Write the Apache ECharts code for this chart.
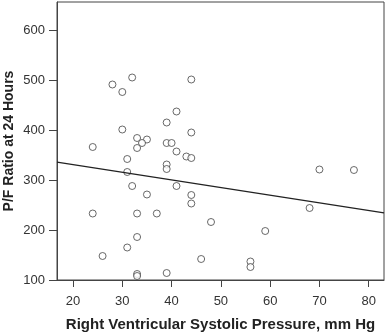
<!DOCTYPE html>
<html>
<head>
<meta charset="utf-8">
<script src="https://cdn.jsdelivr.net/npm/echarts@6/dist/echarts.min.js"></script>
<style>
  html, body { margin: 0; padding: 0; background: #fff; }
  #main { width: 387px; height: 333px; }
</style>
</head>
<body>
<div id="main"></div>
<script>
// RVSP (mm Hg) vs P/F ratio at 24 h
var rvsp = [24, 28, 30, 32, 44, 41, 39, 30, 44, 33, 35, 34, 33, 39, 40, 41, 43, 44, 31, 39, 39, 31,
            32, 41, 35, 44, 44, 24, 33, 37, 33, 31, 26, 39, 33, 33, 46, 48, 59, 56, 56, 68, 70, 77];
var pfRatio = [366, 491, 476, 505, 501, 437, 415, 401, 395, 384, 381, 374, 364, 374, 374, 357, 347, 344, 342, 331, 322, 316,
               288, 288, 271, 270, 253, 233, 233, 233, 186, 165, 148, 114, 112, 108, 142, 216, 198, 137, 126, 244, 321, 320];

// fit line end points
var fitX = [16.75, 83.1];
var fitY = [335.6, 234.4];

var xTicks = [20, 30, 40, 50, 60, 70, 80];
var yTicks = [100, 200, 300, 400, 500, 600];

var points = rvsp.map(function (x, i) { return [x, pfRatio[i]]; });
var fitLine = fitX.map(function (x, i) { return [x, fitY[i]]; });

var font = 'Liberation Sans, Arial, sans-serif';
var axisColor = '#444';

var option = {
  backgroundColor: '#fff',
  animation: false,
  grid: {
    left: 57, right: 3, top: 2, bottom: 53,
    outerBoundsMode: 'none',
    containLabel: false,
    show: true, borderColor: axisColor, borderWidth: 1
  },
  xAxis: {
    type: 'value',
    min: 16.75,
    max: 83.1,
    name: 'Right Ventricular Systolic Pressure, mm Hg',
    nameLocation: 'middle',
    nameGap: 37,
    nameMoveOverlap: false,
    nameTextStyle: { fontFamily: font, fontSize: 15, fontWeight: 'bold', color: '#222' },
    splitLine: { show: false },
    axisLine: { show: true, lineStyle: { color: axisColor, width: 1 } },
    axisTick: { show: true, length: 7, lineStyle: { color: axisColor }, customValues: xTicks },
    axisLabel: { fontFamily: font, fontSize: 13, color: '#333', margin: 15, customValues: xTicks }
  },
  yAxis: {
    type: 'value',
    min: 100,
    max: 656,
    name: 'P/F Ratio at 24 Hours',
    nameLocation: 'middle',
    nameGap: 41,
    nameMoveOverlap: false,
    nameTextStyle: { fontFamily: font, fontSize: 14, fontWeight: 'bold', color: '#222' },
    splitLine: { show: false },
    axisLine: { show: true, lineStyle: { color: axisColor, width: 1 } },
    axisTick: { show: true, length: 8, lineStyle: { color: axisColor }, customValues: yTicks },
    axisLabel: { fontFamily: font, fontSize: 13, color: '#333', margin: 12, customValues: yTicks }
  },
  series: [
    {
      type: 'scatter',
      data: points,
      symbol: 'circle',
      symbolSize: 7,
      itemStyle: { color: '#fff', borderColor: '#444', borderWidth: 1 }
    },
    {
      type: 'line',
      data: fitLine,
      symbol: 'none',
      lineStyle: { color: '#222', width: 1.3 },
      silent: true
    }
  ]
};

var myChart = echarts.init(document.getElementById('main'));
myChart.setOption(option);
</script>
</body>
</html>
